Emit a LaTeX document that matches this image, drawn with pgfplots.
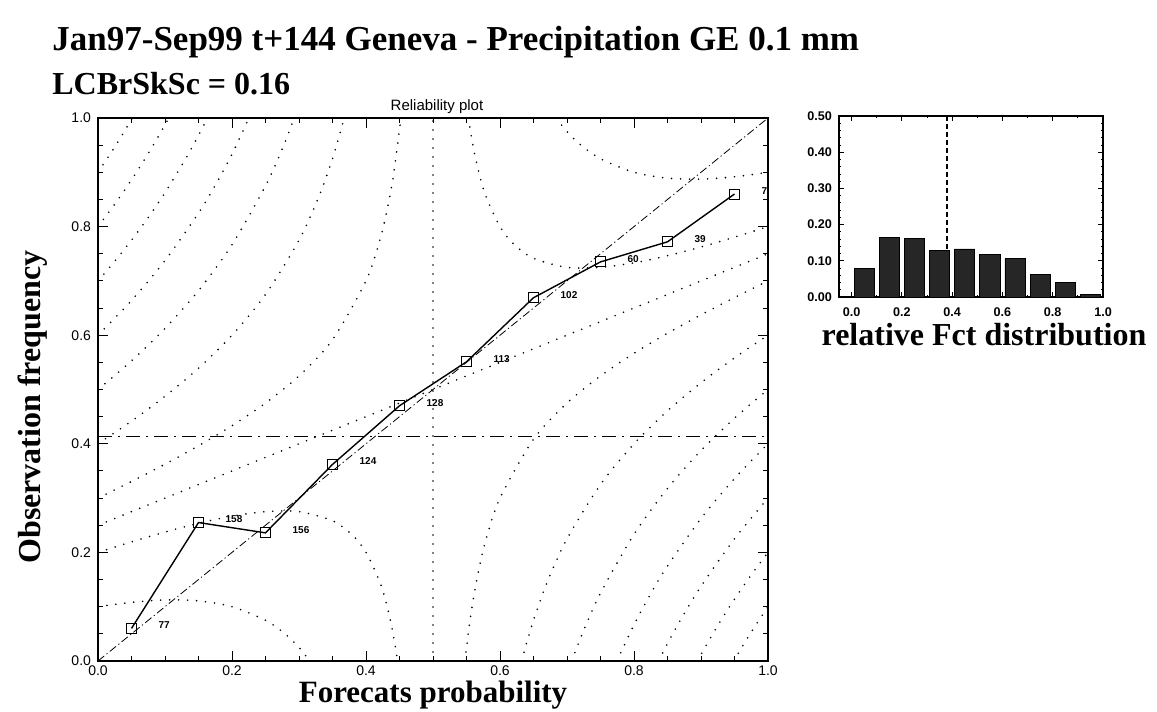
\documentclass[border=0pt]{standalone}
\usepackage{fontspec}
\setmainfont{Liberation Serif}
\setsansfont{Liberation Sans}
\usepackage{pgfplots}
\pgfplotsset{compat=1.18}

\pgfplotsset{
  iso/.style={black, line width=0.9pt, line cap=round, dash pattern=on 0pt off 4.5pt, smooth},
}

\begin{document}
\begin{tikzpicture}
\path[use as bounding box] (0,0) rectangle (578.5pt,-356pt);

% titles
\node[anchor=base west, inner sep=0pt, font=\fontsize{17.5}{20}\selectfont\bfseries] at (26pt,-25pt) {Jan97-Sep99 t+144 Geneva - Precipitation GE 0.1 mm};
\node[anchor=base west, inner sep=0pt, font=\fontsize{16}{19}\selectfont\bfseries] at (26pt,-47pt) {LCBrSkSc = 0.16};
\node[anchor=base, font=\fontsize{7.5}{9}\selectfont\sffamily] at (218.5pt,-55pt) {Reliability plot};
\node[rotate=90, font=\fontsize{16}{19}\selectfont\bfseries] at (16.5pt,-203.5pt) {Observation frequency};
\node[anchor=base, inner sep=0pt, font=\fontsize{15.5}{18}\selectfont\bfseries] at (216.5pt,-351pt) {Forecats probability};
\node[anchor=base, inner sep=0pt, font=\fontsize{16}{19}\selectfont\bfseries] at (492pt,-172.5pt) {relative Fct distribution};

% reliability diagram
\begin{axis}[
  at={(49pt,-330.5pt)}, anchor=south west,
  scale only axis, width=335pt, height=271.5pt,
  xmin=0, xmax=1, ymin=0, ymax=1,
  xtick={0,0.2,0.4,0.6,0.8,1}, ytick={0,0.2,0.4,0.6,0.8,1},
  xticklabels={0.0,0.2,0.4,0.6,0.8,1.0},
  yticklabels={0.0,0.2,0.4,0.6,0.8,1.0},
  minor tick num=3,
  tick align=inside,
  major tick length=5pt, minor tick length=2.5pt,
  tick style={black, line width=0.5pt},
  tick label style={font=\fontsize{7}{8}\selectfont\sffamily},
  xticklabel style={yshift=1pt},
  axis line style={line width=0.7pt},
]
% isolines (upper left)
\addplot[iso] coordinates {(0,0.300) (0.05,0.3306) (0.10,0.3625) (0.15,0.3964) (0.20,0.4333) (0.25,0.475) (0.30,0.525) (0.35,0.5917) (0.40,0.700) (0.42,0.7725) (0.43,0.8221) (0.44,0.8867) (0.4523,1)};
\addplot[iso] coordinates {(0,0.400) (0.05,0.4417) (0.10,0.4875) (0.15,0.5393) (0.20,0.600) (0.25,0.675) (0.30,0.775) (0.33,0.8562) (0.35,0.925) (0.3675,1)};
\addplot[iso] coordinates {(0,0.500) (0.05,0.5528) (0.10,0.6125) (0.15,0.6821) (0.20,0.7667) (0.25,0.875) (0.275,0.9431) (0.2929,1)};
\addplot[iso] coordinates {(0,0.600) (0.05,0.6639) (0.10,0.7375) (0.15,0.825) (0.175,0.876) (0.20,0.9333) (0.2254,1)};
\addplot[iso] coordinates {(0,0.700) (0.025,0.7362) (0.05,0.775) (0.075,0.8169) (0.10,0.8625) (0.13,0.9231) (0.15,0.9679) (0.1633,1)};
\addplot[iso] coordinates {(0,0.800) (0.025,0.8414) (0.05,0.8861) (0.075,0.9346) (0.09,0.9657) (0.1056,1)};
\addplot[iso] coordinates {(0,0.900) (0.025,0.9467) (0.0513,1)};
% isolines (lower left)
\addplot[iso] coordinates {(0,0.100) (0.05,0.108) (0.10,0.1125) (0.15,0.1107) (0.20,0.100) (0.25,0.075) (0.28,0.0491) (0.30,0.025) (0.316,0)};
\addplot[iso] coordinates {(0,0.200) (0.05,0.2194) (0.10,0.2375) (0.15,0.2536) (0.20,0.2667) (0.25,0.275) (0.30,0.275) (0.35,0.2583) (0.38,0.2317) (0.40,0.200) (0.42,0.1475) (0.43,0.1079) (0.44,0.0533) (0.4472,0)};
% zero lines
\addplot[iso] coordinates {(0,0.25) (1,0.75)};
\addplot[iso] coordinates {(0.5,0) (0.5,1)};
% isolines (upper right)
\addplot[iso] coordinates {(0.5528,1) (0.56,0.9467) (0.57,0.8921) (0.58,0.8525) (0.60,0.800) (0.62,0.7683) (0.65,0.7417) (0.70,0.725) (0.75,0.725) (0.80,0.7333) (0.85,0.7464) (0.90,0.7625) (0.95,0.7806) (1,0.800)};
\addplot[iso] coordinates {(0.6838,1) (0.70,0.975) (0.72,0.9509) (0.75,0.925) (0.80,0.900) (0.85,0.8893) (0.90,0.8875) (0.95,0.8917) (1,0.900)};
% isolines (lower right)
\addplot[iso] coordinates {(0.5477,0) (0.553,0.0548) (0.56,0.1133) (0.57,0.1779) (0.58,0.2275) (0.60,0.300) (0.65,0.4083) (0.70,0.475) (0.75,0.525) (0.80,0.5667) (0.85,0.6036) (0.90,0.6375) (0.95,0.6694) (1,0.700)};
\addplot[iso] coordinates {(0.6325,0) (0.64,0.0343) (0.65,0.075) (0.67,0.1438) (0.70,0.225) (0.75,0.325) (0.80,0.400) (0.85,0.4607) (0.90,0.5125) (0.95,0.5583) (1,0.600)};
\addplot[iso] coordinates {(0.7071,0) (0.725,0.0569) (0.75,0.125) (0.80,0.2333) (0.85,0.3179) (0.90,0.3875) (0.95,0.4472) (1,0.500)};
\addplot[iso] coordinates {(0.7746,0) (0.80,0.0667) (0.825,0.124) (0.85,0.175) (0.90,0.2625) (0.95,0.3361) (1,0.400)};
\addplot[iso] coordinates {(0.8367,0) (0.85,0.0321) (0.87,0.0769) (0.90,0.1375) (0.95,0.225) (1,0.300)};
\addplot[iso] coordinates {(0.8944,0) (0.925,0.0654) (0.95,0.1139) (0.975,0.1586) (1,0.200)};
\addplot[iso] coordinates {(0.9487,0) (0.975,0.0533) (1,0.100)};
% climatology and diagonal
\addplot[black, line width=0.6pt, dash pattern=on 7pt off 3pt on 1pt off 3pt] coordinates {(0,0.413) (1,0.413)};
\addplot[black, line width=0.4pt, dash pattern=on 4pt off 1.5pt on 0.6pt off 1.5pt] coordinates {(0,0) (1,1)};
% observed frequencies with sample sizes
\addplot[black, line width=0.7pt, mark=square, mark size=2.5pt, mark options={solid, line width=0.5pt},
  point meta=explicit symbolic, nodes near coords,
  nodes near coords style={anchor=west, xshift=10pt, yshift=1.5pt, font=\fontsize{5}{6}\selectfont\sffamily\bfseries}]
  coordinates {
  (0.05,0.060) [77]
  (0.15,0.255) [158]
  (0.25,0.236) [156]
  (0.35,0.362) [124]
  (0.45,0.470) [128]
  (0.55,0.551) [113]
  (0.65,0.669) [102]
  (0.75,0.735) [60]
  (0.85,0.772) [39]
  (0.95,0.860) [7]
};
\end{axis}

% relative forecast distribution
\begin{axis}[
  at={(419.5pt,-148.5pt)}, anchor=south west,
  scale only axis, width=132pt, height=90.5pt,
  xmin=-0.05, xmax=1, ymin=0, ymax=0.5,
  xtick={0,0.2,0.4,0.6,0.8,1}, xticklabels={0.0,0.2,0.4,0.6,0.8,1.0},
  ytick={0,0.1,0.2,0.3,0.4,0.5}, yticklabels={0.00,0.10,0.20,0.30,0.40,0.50},
  minor y tick num=4, minor x tick num=1,
  tick align=inside,
  major tick length=2.5pt, minor tick length=1.2pt,
  tick style={black, line width=0.4pt},
  tick label style={font=\fontsize{6.3}{7}\selectfont\sffamily\bfseries},
  xticklabel style={yshift=-2pt},
  axis line style={line width=0.7pt},
]
\addplot[black, line width=0.9pt, dash pattern=on 2.5pt off 1.5pt] coordinates {(0.38,0) (0.38,0.5)};
\addplot[ybar, bar width=0.08, fill=black!85, draw=black] coordinates {
  (0.05,0.0799) (0.15,0.1639) (0.25,0.1618) (0.35,0.1286) (0.45,0.1328)
  (0.55,0.1172) (0.65,0.1058) (0.75,0.0622) (0.85,0.0405) (0.95,0.0073)
};
\end{axis}
\end{tikzpicture}
\end{document}
